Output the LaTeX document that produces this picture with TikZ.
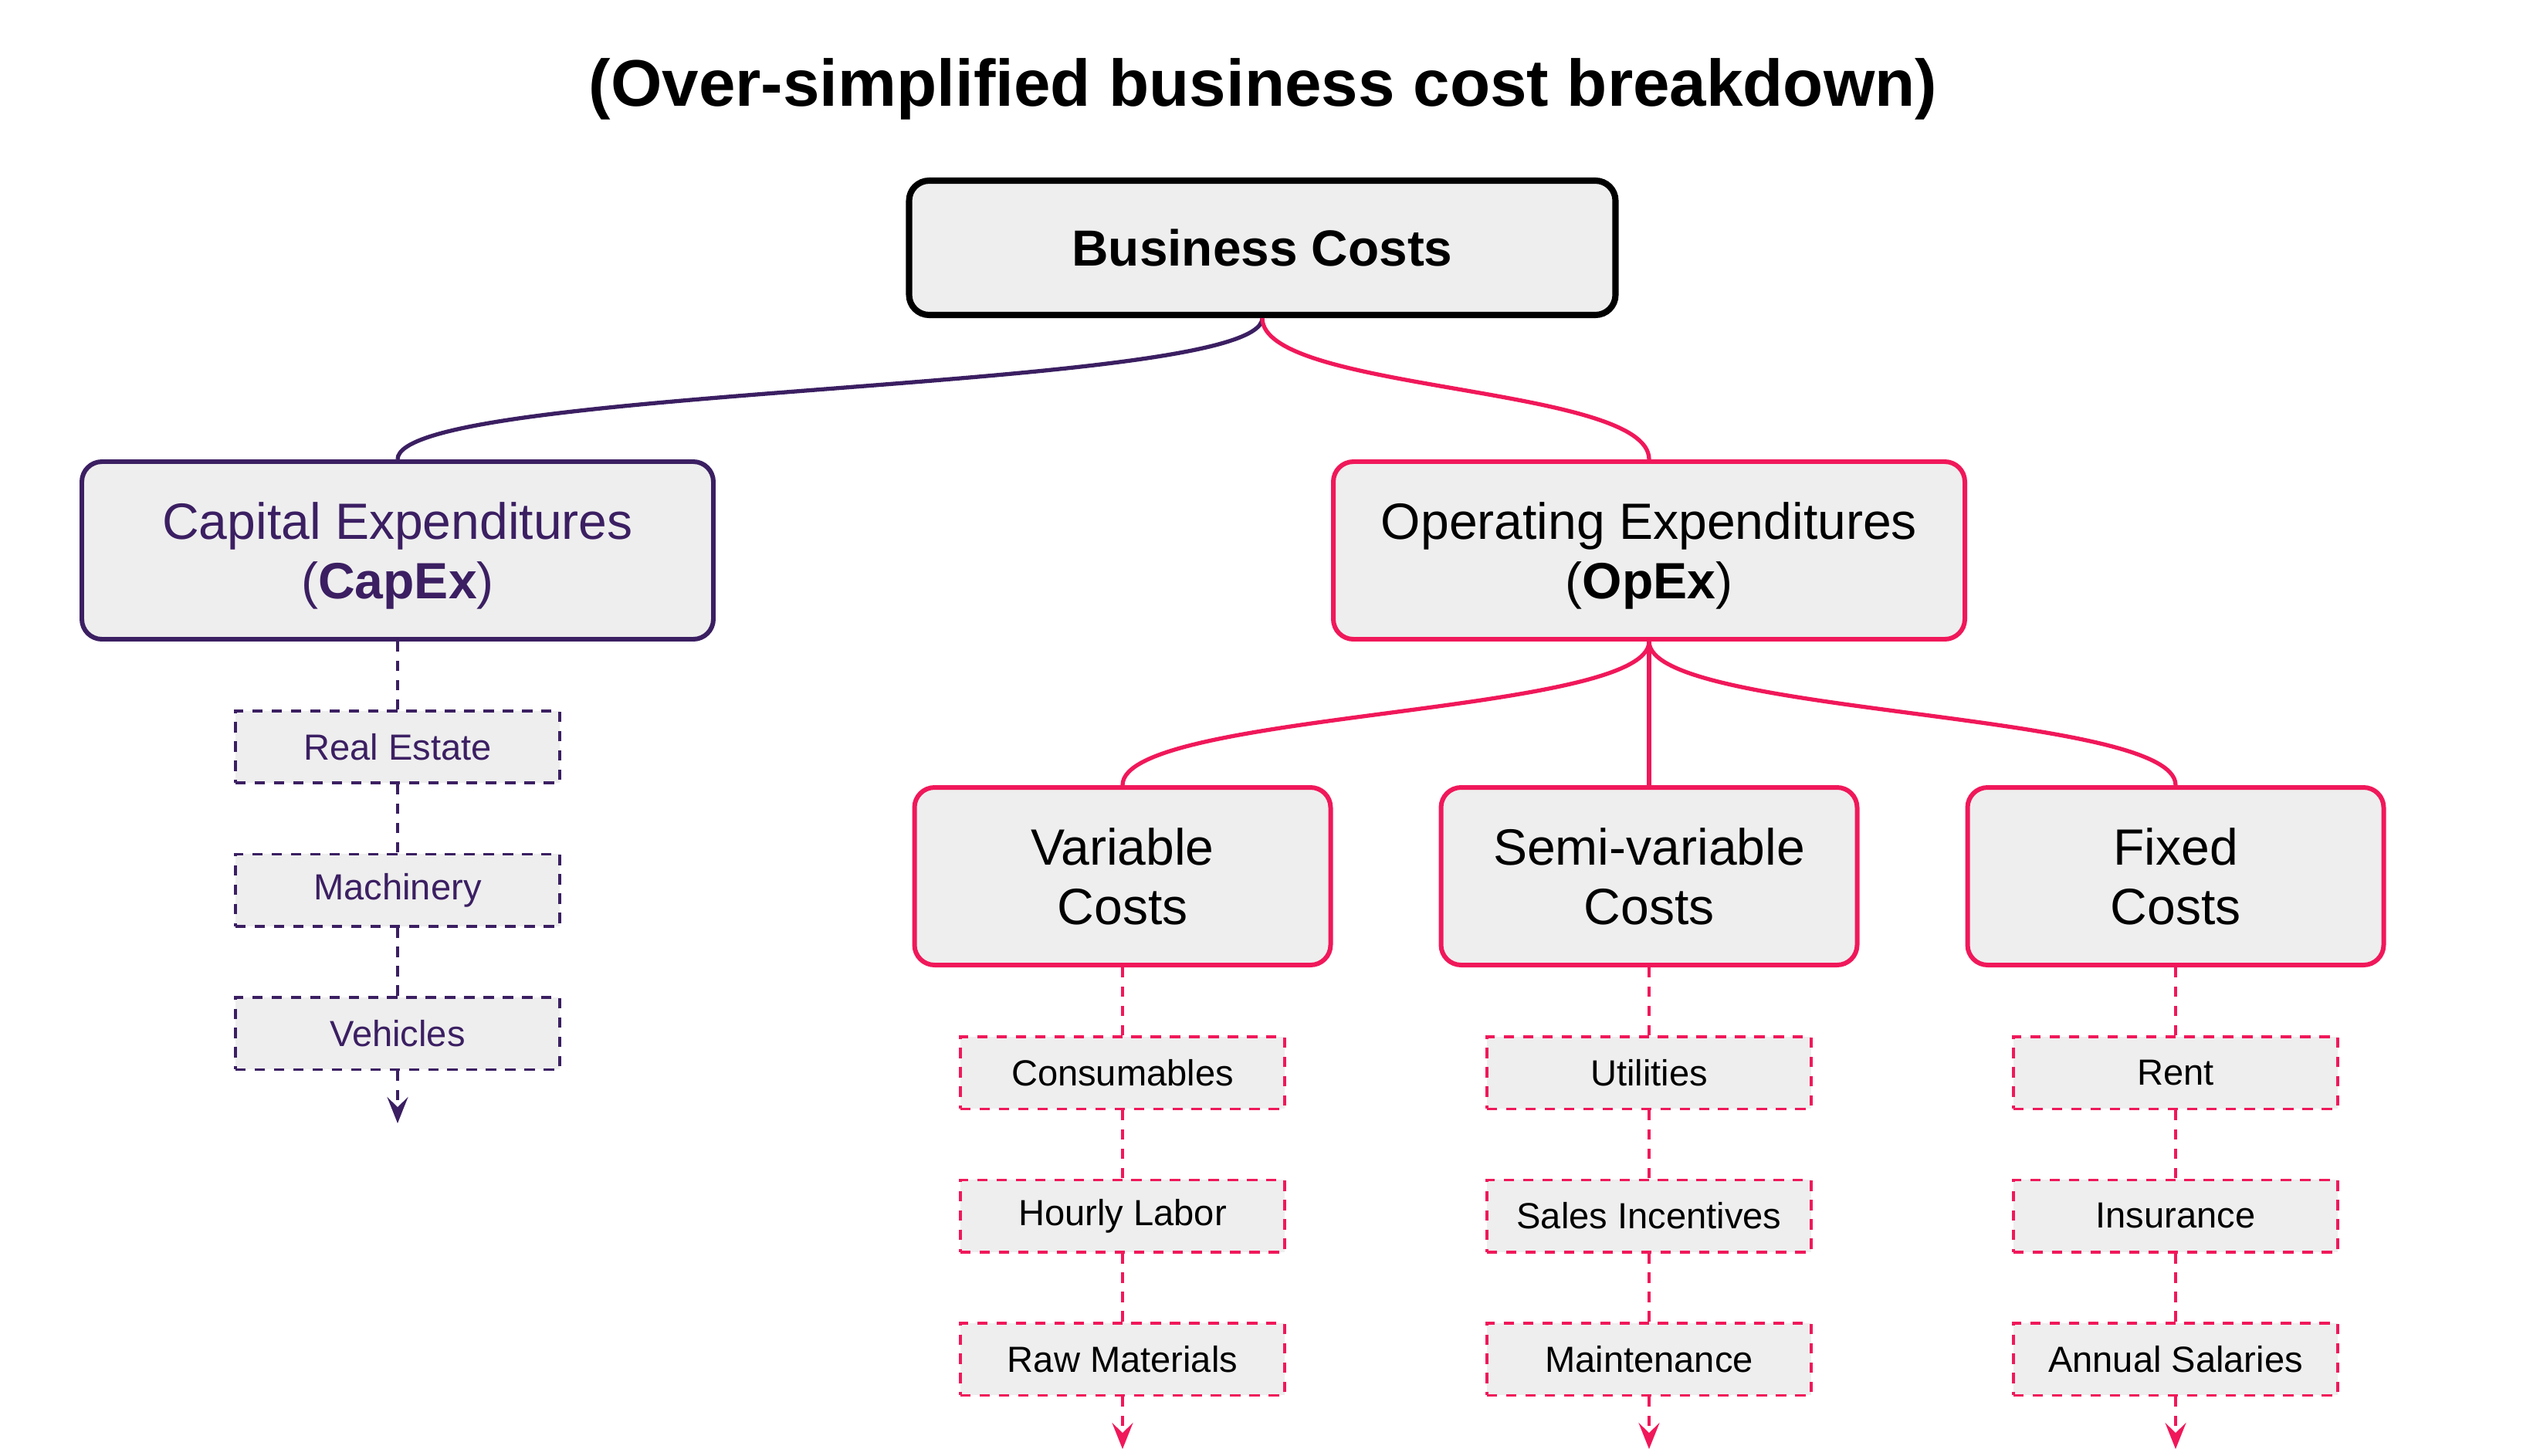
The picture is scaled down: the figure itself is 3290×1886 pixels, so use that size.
\documentclass[tikz,border=0pt]{standalone}
\usepackage{fontspec}
\setmainfont{Liberation Sans}
\usetikzlibrary{positioning,arrows.meta}
\definecolor{capcol}{RGB}{59,31,98}
\definecolor{opcol}{RGB}{240,24,90}
\definecolor{boxfill}{RGB}{238,238,238}
\begin{document}
\begin{tikzpicture}[x=0.1mm, y=-0.1mm,
  rootbox/.style={draw=black, fill=boxfill, line width=2.3pt, rounded corners=2.6mm,
    minimum width=91.5mm, minimum height=17.4mm, font=\bfseries\fontsize{18.7}{22}\selectfont},
  bigbox/.style={fill=boxfill, line width=1.7pt, rounded corners=2.6mm, align=center, text depth=0pt,
    minimum width=81.8mm, minimum height=23mm, font=\fontsize{18.8}{22.1}\selectfont},
  midbox/.style={bigbox, draw=opcol, minimum width=53.9mm},
  itembox/.style={fill=boxfill, line width=1pt, dash pattern=on 3.8pt off 3.3pt,
    minimum width=42mm, minimum height=9.35mm, font=\fontsize{13.4}{16}\selectfont},
  capitem/.style={itembox, draw=capcol, text=capcol},
  opitem/.style={itembox, draw=opcol},
  capline/.style={draw=capcol, line width=1.5pt},
  opline/.style={draw=opcol, line width=1.5pt},
  capdash/.style={draw=capcol, line width=1pt, dash pattern=on 3.8pt off 3.3pt},
  opdash/.style={draw=opcol, line width=1pt, dash pattern=on 3.8pt off 3.3pt},
  tip/.style={-{Stealth[length=3.4mm, width=2.7mm, inset=1.3mm]}}]
\useasboundingbox (0,0) rectangle (3290,1886);

% title and top levels
\node[font=\bfseries\fontsize{24.3}{29}\selectfont] (title) at (1636,115) {(Over-simplified business cost breakdown)};
\node[rootbox] (costs) at (1635,321) {Business Costs};
\node[bigbox, draw=capcol, text=capcol] (capex) at (515,713) {Capital Expenditures\\(\textbf{CapEx})};
\node[bigbox, draw=opcol] (opex) at (2136,713) {Operating Expenditures\\(\textbf{OpEx})};
\node[midbox] (varcost) at (1454,1135) {Variable\\Costs};
\node[midbox] (semicost) at (2136,1135) {Semi-variable\\Costs};
\node[midbox] (fixcost) at (2818,1135) {Fixed\\Costs};

% CapEx items
\node[capitem, below=8.8mm of capex] (realest) {Real Estate};
\node[capitem, below=8.85mm of realest] (machin) {Machinery};
\node[capitem, below=8.85mm of machin] (vehic) {Vehicles};
\coordinate[below=6.8mm of vehic] (capend);

% OpEx items
\node[opitem, below=8.8mm of varcost] (consum) {Consumables};
\node[opitem, below=8.85mm of consum] (hourly) {Hourly Labor};
\node[opitem, below=8.85mm of hourly] (rawmat) {Raw Materials};
\coordinate[below=6.8mm of rawmat] (varend);
\node[opitem, below=8.8mm of semicost] (utilit) {Utilities};
\node[opitem, below=8.85mm of utilit] (salesinc) {Sales Incentives};
\node[opitem, below=8.85mm of salesinc] (mainten) {Maintenance};
\coordinate[below=6.8mm of mainten] (semiend);
\node[opitem, below=8.8mm of fixcost] (rent) {Rent};
\node[opitem, below=8.85mm of rent] (insur) {Insurance};
\node[opitem, below=8.85mm of insur] (salary) {Annual Salaries};
\coordinate[below=6.8mm of salary] (fixend);

% tree connectors
\draw[capline] (costs.south) .. controls +(0,96) and +(0,-96) .. (capex.north);
\draw[opline] (costs.south) .. controls +(0,96) and +(0,-96) .. (opex.north);
\draw[opline] (opex.south) .. controls +(0,96) and +(0,-96) .. (varcost.north);
\draw[opline] (opex.south) -- (semicost.north);
\draw[opline] (opex.south) .. controls +(0,96) and +(0,-96) .. (fixcost.north);

% dashed chains
\draw[capdash] (capex) -- (realest) -- (machin) -- (vehic);
\draw[capdash, tip] (vehic) -- (capend);
\draw[opdash] (varcost) -- (consum) -- (hourly) -- (rawmat);
\draw[opdash, tip] (rawmat) -- (varend);
\draw[opdash] (semicost) -- (utilit) -- (salesinc) -- (mainten);
\draw[opdash, tip] (mainten) -- (semiend);
\draw[opdash] (fixcost) -- (rent) -- (insur) -- (salary);
\draw[opdash, tip] (salary) -- (fixend);
\end{tikzpicture}
\end{document}
